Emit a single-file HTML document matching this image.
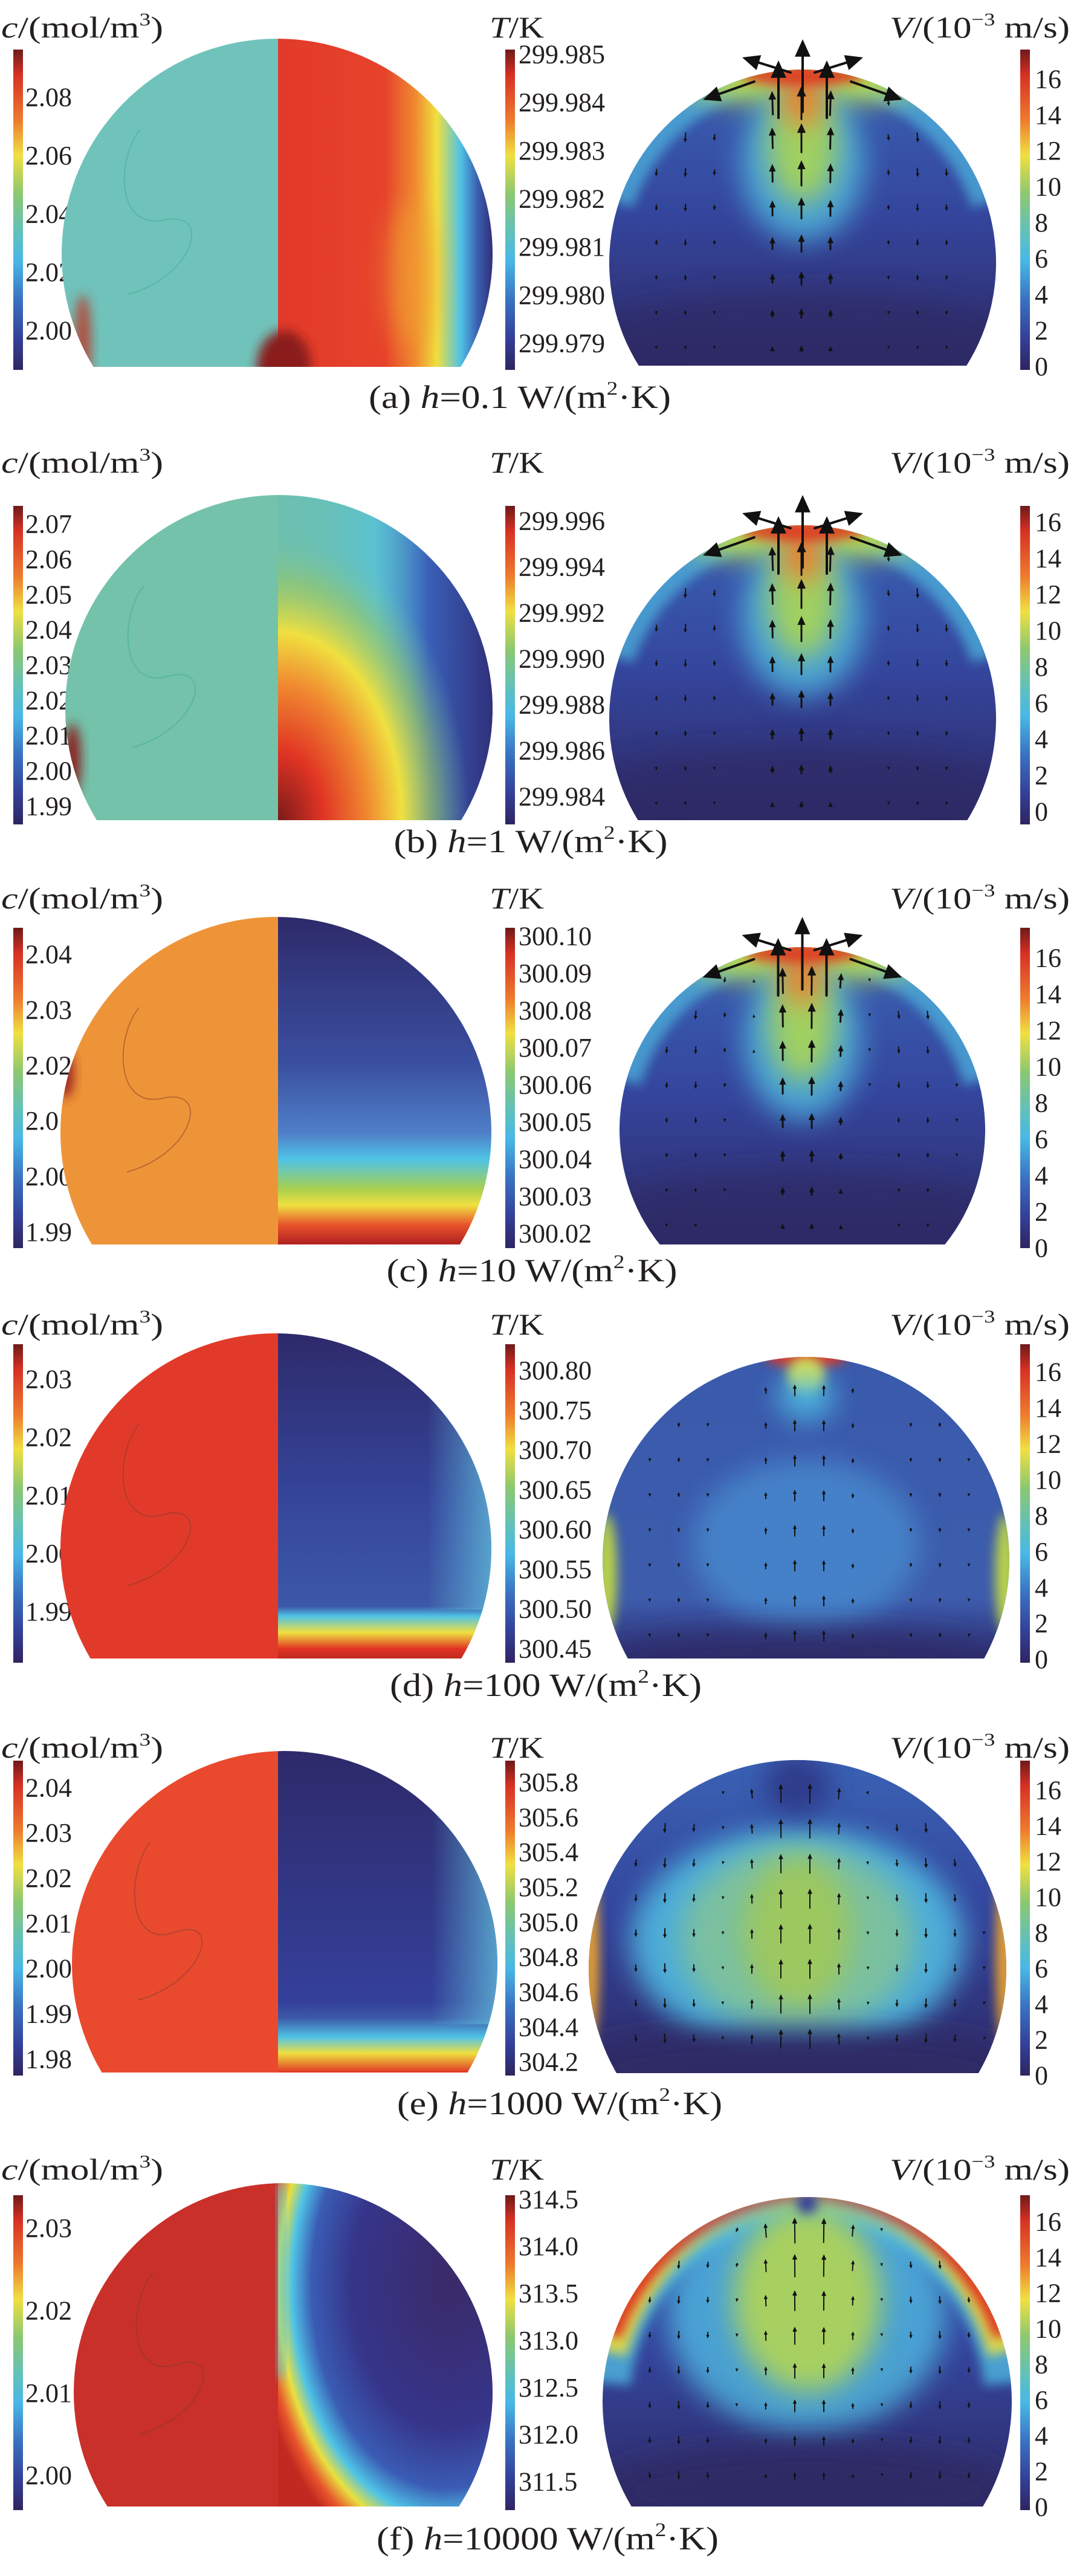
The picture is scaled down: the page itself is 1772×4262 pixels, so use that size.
<!DOCTYPE html>
<html><head><meta charset="utf-8"><title>Concentration, temperature and velocity fields</title>
<style>
html,body{margin:0;padding:0;background:#fff;}
svg{display:block;}
text{font-family:"Liberation Serif","DejaVu Serif",serif;fill:#231f20;}
</style></head>
<body>
<svg id="chart" width="1772" height="4262" viewBox="0 0 1772 4262" xmlns="http://www.w3.org/2000/svg">
<defs id="defs"></defs>
</svg>
<script>
// ---- data arrays ----
const captionLetters=['(a)','(b)','(c)','(d)','(e)','(f)'];
const hValues=['0.1','1','10','100','1000','10000'];
const cTicksA=[2.08,2.06,2.04,2.02,2.00];
const cTicksB=[2.07,2.06,2.05,2.04,2.03,2.02,2.01,2.00,1.99];
const cTicksC=[2.04,2.03,2.02,2.01,2.00,1.99];
const cTicksD=[2.03,2.02,2.01,2.00,1.99];
const cTicksE=[2.04,2.03,2.02,2.01,2.00,1.99,1.98];
const cTicksF=[2.03,2.02,2.01,2.00];
const tTicksA=[299.985,299.984,299.983,299.982,299.981,299.980,299.979];
const tTicksB=[299.996,299.994,299.992,299.990,299.988,299.986,299.984];
const tTicksC=[300.10,300.09,300.08,300.07,300.06,300.05,300.04,300.03,300.02];
const tTicksD=[300.80,300.75,300.70,300.65,300.60,300.55,300.50,300.45];
const tTicksE=[305.8,305.6,305.4,305.2,305.0,304.8,304.6,304.4,304.2];
const tTicksF=[314.5,314.0,313.5,313.0,312.5,312.0,311.5];
const vTicks=[16,14,12,10,8,6,4,2,0];
const cTickSets=[cTicksA,cTicksB,cTicksC,cTicksD,cTicksE,cTicksF];
const tTickSets=[tTicksA,tTicksB,tTicksC,tTicksD,tTicksE,tTicksF];
const tDecimals=[3,3,2,2,1,1];

// ---- layout (not data) ----
const L=[
 {oy:0,lb:62,bar:[82,612],cf:[.149,.877],tf:[.015,.917],vf:[.092,.99],ld:[102,815,64,607],rd:[1008,1648,115,605],cap:[860,675,500]},
 {oy:712,lb:70,bar:[125,652],cf:[.057,.943],tf:[.047,.913],vf:[.051,.96],ld:[108,815,107,645],rd:[1008,1648,157,645],cap:[878,698,453]},
 {oy:1424,lb:79,bar:[111,641],cf:[.083,.95],tf:[.026,.955],vf:[.094,1.0],ld:[100,813,93,635],rd:[1025,1630,143,635],cap:[880,696,481]},
 {oy:2130,lb:78,bar:[94,621],cf:[.11,.84],tf:[.083,.956],vf:[.087,.99],ld:[100,813,76,614],rd:[997,1670,115,614],cap:[903,676,516]},
 {oy:2840,lb:68,bar:[73,594],cf:[.086,.948],tf:[.069,.957],vf:[.094,1.0],ld:[119,823,57,589],rd:[974,1665,72,590],cap:[926,658,538]},
 {oy:3540,lb:66,bar:[92,613],cf:[.105,.89],tf:[.013,.91],vf:[.084,.99],ld:[122,815,72,607],rd:[997,1674,95,607],cap:[906,678,566]}
];
const cColors=['#70c3bb','#74c2aa','#ee9438','#e23a2a','#e94a2e','#c9302a'];
const SPLIT=460;
const NS='http://www.w3.org/2000/svg';
const svg=document.getElementById('chart');
const defs=document.getElementById('defs');
function mk(tag,attrs,parent){const e=document.createElementNS(NS,tag);for(const k in attrs)e.setAttribute(k,attrs[k]);(parent||svg).appendChild(e);return e;}
function grad(id,type,stops,extra){const g=mk(type,Object.assign({id:id},extra||{}),defs);stops.forEach(s=>mk('stop',{offset:s[0],'stop-color':s[1],'stop-opacity':s[2]===undefined?1:s[2]},g));return g;}
grad('jet','linearGradient',[[0,'#6e1a1a'],[.08,'#d83024'],[.22,'#ee7a2e'],[.33,'#f0e040'],[.45,'#8cc870'],[.58,'#5ec0c0'],[.66,'#48b8e6'],[.78,'#3a72c2'],[.9,'#34409a'],[1,'#2e2560']],{x1:0,y1:0,x2:0,y2:1});
const blur=mk('filter',{id:'blur',x:'-50%',y:'-50%',width:'200%',height:'200%'},defs);mk('feGaussianBlur',{stdDeviation:22},blur);
const blurS=mk('filter',{id:'blurS',x:'-50%',y:'-50%',width:'200%',height:'200%'},defs);mk('feGaussianBlur',{stdDeviation:9},blurS);
grad('tg0','linearGradient',[[0,'#e23a2a'],[.5,'#e6432b'],[.64,'#f08a30'],[.74,'#f0e040'],[.85,'#4fc3e6'],[.93,'#3a5fb0'],[1,'#30307a']]);
grad('tg1a','linearGradient',[[0,'#6cc0b0',0],[.45,'#4fc3e6',.6],[.7,'#3a60b8',1],[1,'#30307a',1]]);
grad('tg1b','radialGradient',[[0,'#7a1a1a'],[.2,'#e03424'],[.4,'#f08a30'],[.55,'#f0e040'],[.7,'#9cc860',.6],[.85,'#6cc0b0',0]],{cx:0,cy:1,r:1.05});
grad('tg2','linearGradient',[[0,'#2e2a6a'],[.45,'#3a4fa0'],[.66,'#4f7fc8'],[.74,'#4fc3e6'],[.83,'#a8d050'],[.88,'#f0e040'],[.94,'#e8542c'],[1,'#b02020']],{x1:0,y1:0,x2:0,y2:1});
grad('tg3','linearGradient',[[0,'#2e2a6a'],[.5,'#35459a'],[.84,'#3d58a8'],[.87,'#4fc3e6'],[.92,'#f0e040'],[.97,'#e03424'],[1,'#c02a20']],{x1:0,y1:0,x2:0,y2:1});
grad('tg4','linearGradient',[[0,'#2e2a6a'],[.78,'#34409a'],[.83,'#3d58a8'],[.89,'#4fc3e6'],[.94,'#f0e040'],[1,'#e03424']],{x1:0,y1:0,x2:0,y2:1});
grad('tg5','radialGradient',[[0,'#3a2a68'],[.5,'#36358a'],[.7,'#3a5cb4'],[.8,'#4fc3e6'],[.87,'#e8e040'],[.94,'#e8542c'],[1,'#c02a20']],{cx:.78,cy:.32,r:.9,fx:.8,fy:.3});
grad('edgeCyan','linearGradient',[[0,'#5fb8d8',0],[.7,'#5fb8d8',0],[1,'#5fb8d8',.8]]);
grad('vbase','linearGradient',[[0,'#3a62b4'],[.5,'#34459c'],[1,'#2e2a66']],{x1:0,y1:0,x2:0,y2:1});
grad('vbaseD','linearGradient',[[0,'#3a5aac'],[.8,'#3d5cac'],[1,'#2e3278']],{x1:0,y1:0,x2:0,y2:1});

function domePath(x0,x1,top,bottom){const r=(x1-x0)/2,cx=(x0+x1)/2,cy=top+r;const dy=bottom-cy;const hw=Math.sqrt(Math.max(r*r-dy*dy,0));const large=bottom>cy?1:0;return `M${cx-hw},${bottom} A${r},${r} 0 ${large} 1 ${cx+hw},${bottom} Z`;}
function upperArc(x0,x1,top,depth){const r=(x1-x0)/2,cx=(x0+x1)/2;const hw=Math.sqrt(Math.max(r*r-(r-depth)*(r-depth),0));return `M${cx-hw},${top+depth} A${r},${r} 0 0 1 ${cx+hw},${top+depth}`;}
function fmt(v,d){return v.toFixed(d);}
function axisY(ticks,bar,fr){const a=ticks[0],b=ticks[ticks.length-1];const y0=bar[0]+(bar[1]-bar[0])*fr[0],y1=bar[0]+(bar[1]-bar[0])*fr[1];return v=>y0+(v-a)/(b-a)*(y1-y0);}
function arrow(g,x,y,dx,dy,w){const len=Math.hypot(dx,dy);if(len<3)return;const ux=dx/len,uy=dy/len;const hs=Math.min(6+len*0.15,18)*w/2.5;
 const ln=mk('line',{x1:x-dx/2,y1:y-dy/2,x2:x+dx/2-ux*hs*0.6,y2:y+dy/2-uy*hs*0.6,stroke:'#111','stroke-width':w,'stroke-linecap':'round'},g);
 
 
 const tx=x+dx/2,ty=y+dy/2,bx=tx-ux*hs,by=ty-uy*hs,px=-uy*hs*0.45,py=ux*hs*0.45;
 const hd=mk('polygon',{points:`${tx},${ty} ${bx+px},${by+py} ${bx-px},${by-py}`,fill:'#111'},g);
 
 }

L.forEach((p,i)=>{
 const g=mk('g',{transform:`translate(0,${p.oy})`});
 
 
 const ct=mk('text',{x:2,y:p.lb,'font-size':50,textLength:268,lengthAdjust:'spacingAndGlyphs'},g);
 
 
 ct.innerHTML='<tspan font-style="italic">c</tspan>/(mol/m<tspan font-size="30" dy="-20">3</tspan><tspan dy="20">)</tspan>';
 const tt=mk('text',{x:810,y:p.lb,'font-size':50,textLength:90,lengthAdjust:'spacingAndGlyphs'},g);
 
 
 tt.innerHTML='<tspan font-style="italic">T</tspan>/K';
 const vt=mk('text',{x:1472,y:p.lb,'font-size':50,textLength:298,lengthAdjust:'spacingAndGlyphs'},g);
 
 
 vt.innerHTML='<tspan font-style="italic">V</tspan>/(10<tspan font-size="30" dy="-20">−3</tspan><tspan dy="20"> m/s)</tspan>';
 [[22,'concentration-colorbar'],[836,'temperature-colorbar'],[1688,'velocity-colorbar']].forEach(b=>{
  const r=mk('rect',{x:b[0],y:p.bar[0],width:16,height:p.bar[1]-p.bar[0],fill:'url(#jet)'},g);
  
  
 });
 const cy=axisY(cTickSets[i],p.bar,p.cf);
 cTickSets[i].forEach(v=>{const t=mk('text',{x:42,y:cy(v),'font-size':44,'dominant-baseline':'central'},g);t.textContent=fmt(v,2);
  
  });
 const ty=axisY(tTickSets[i],p.bar,p.tf);
 tTickSets[i].forEach(v=>{const t=mk('text',{x:858,y:ty(v),'font-size':44,'dominant-baseline':'central'},g);t.textContent=fmt(v,tDecimals[i]);
  
  });
 const vy=axisY(vTicks,p.bar,p.vf);
 vTicks.forEach(v=>{const t=mk('text',{x:1712,y:vy(v),'font-size':44,'dominant-baseline':'central'},g);t.textContent=String(v);
  
  });
 const [lx0,lx1,lt,lb]=p.ld;
 const cpL=mk('clipPath',{id:'cl'+i},defs);mk('path',{d:domePath(lx0,lx1,lt,lb)},cpL);
 const ld=mk('g',{'clip-path':`url(#cl${i})`},g);
 
 
 const cr=mk('rect',{x:lx0,y:lt,width:SPLIT-lx0,height:lb-lt,fill:cColors[i]},ld);
 
 
 const tw=lx1-SPLIT;
 let tr;
 if(i===1){tr=mk('rect',{x:SPLIT,y:lt,width:tw,height:lb-lt,fill:'#6cc0b0'},ld);
  mk('rect',{x:SPLIT,y:lt,width:tw,height:lb-lt,fill:'url(#tg1a)'},ld);
  mk('rect',{x:SPLIT,y:lt,width:tw,height:lb-lt,fill:'url(#tg1b)'},ld);}
 else{tr=mk('rect',{x:SPLIT,y:lt,width:tw,height:lb-lt,fill:`url(#tg${i})`},ld);}
 
 
 if(i===3||i===4)mk('rect',{x:SPLIT,y:lt,width:tw,height:(lb-lt)*0.85,fill:'url(#edgeCyan)'},ld);
 if(i===0){mk('ellipse',{cx:SPLIT+10,cy:lb,rx:45,ry:60,fill:'#8a1e1a',filter:'url(#blurS)'},ld);
  mk('ellipse',{cx:SPLIT+tw*0.62,cy:lt+(lb-lt)*0.72,rx:40,ry:120,fill:'#f0a030',opacity:.6,filter:'url(#blur)'},ld);
  mk('ellipse',{cx:lx0+35,cy:lb-40,rx:14,ry:80,fill:'#c03020',opacity:.8,filter:'url(#blurS)'},ld);}
 if(i===1)mk('ellipse',{cx:lx0+12,cy:lb-100,rx:14,ry:60,fill:'#8a2020',filter:'url(#blurS)'},ld);
 if(i===2)mk('ellipse',{cx:lx0+8,cy:lt+260,rx:14,ry:40,fill:'#9a2020',filter:'url(#blurS)'},ld);
 if(i===5){mk('rect',{x:SPLIT,y:lt,width:10,height:(lb-lt)*.6,fill:'#4fc3e6',filter:'url(#blurS)'},ld);}
 const cl=mk('path',{d:`M${lx0+110},${lb-120} C${lx0+220},${lb-150} ${lx0+250},${lb-260} ${lx0+170},${lt+300} S${lx0+90},${lt+200} ${lx0+130},${lt+150}`,fill:'none',stroke:i<2?'#3aa890':'#7a3a30','stroke-width':2,opacity:.45},ld);
 
 
 const [rx0,rx1,rt,rb]=p.rd;const W=rx1-rx0,H=rb-rt,cx=(rx0+rx1)/2,R=W/2;
 const cpR=mk('clipPath',{id:'cr'+i},defs);mk('path',{d:domePath(rx0,rx1,rt,rb)},cpR);
 const rd=mk('g',{'clip-path':`url(#cr${i})`},g);
 
 
 mk('rect',{x:rx0,y:rt,width:W,height:H,fill:i===3?'url(#vbaseD)':'url(#vbase)'},rd);
 const blob=(fx,fy,frx,fry,col,op,f)=>mk('ellipse',{cx:rx0+W*fx,cy:rt+H*fy,rx:W*frx,ry:H*fry,fill:col,opacity:op===undefined?1:op,filter:`url(#${f||'blur'})`},rd);
 const arcBand=(col,w,op,depth)=>mk('path',{d:upperArc(rx0,rx1,rt,depth),fill:'none',stroke:col,'stroke-width':w,opacity:op,filter:'url(#blurS)'},rd);
 if(i<=2){
  arcBand('#4fb8e0',50,.7,H*0.45);
  blob(.5,.0,.36,.12,'#b8d850');blob(.5,.32,.16,.26,'#4fb8e0',.8);blob(.5,.25,.09,.2,'#a0d060');
  blob(.5,.1,.05,.09,'#ee7a2e');blob(.5,.02,.16,.035,'#e03424',.9,'blurS');
  blob(.5,.95,.6,.2,'#2e2a66',.7);
 } else if(i===3){
  blob(.5,.0,.1,.035,'#e03424',1,'blurS');blob(.5,.06,.045,.06,'#e8e040',1,'blurS');blob(.5,.13,.07,.08,'#4fc3e6',.8);
  blob(.5,.62,.28,.28,'#4a92d4',.7);blob(.01,.72,.025,.2,'#c8e040',.9,'blurS');blob(.99,.72,.025,.2,'#c8e040',.9,'blurS');
  blob(.5,1,.5,.1,'#2e2a66',.8);
 } else if(i===4){
  blob(.5,.58,.4,.36,'#4fb8e0',.9);blob(.5,.57,.28,.3,'#7ac0a0');blob(.5,.55,.13,.24,'#9cc860');
  blob(.005,.62,.02,.3,'#e8a030',1,'blurS');blob(.995,.62,.02,.3,'#e8a030',1,'blurS');
  blob(.5,.98,.55,.12,'#2e2a66');blob(.5,.08,.08,.1,'#2e3a8a');
 } else {
  arcBand('#4fb8e0',90,.8,H*0.6);arcBand('#e8e040',60,.9,H*0.5);arcBand('#e03424',26,1,H*0.45);
  blob(.5,.38,.34,.38,'#4fb8e0',.8);blob(.5,.33,.18,.3,'#a8d060');
  blob(.5,.95,.5,.15,'#2e2a66');blob(.5,.02,.025,.035,'#34409a',1,'blurS');
 }
 const ag=mk('g',{},rd);
 
 
 const strength=[1,1,.9,.7,1,1.1][i];
 for(let y=rt+55;y<rb-20;y+=58){for(let x=rx0+30;x<rx1-10;x+=48){
  const ccy=rt+R;const dd=Math.hypot(x-cx,Math.min(0,y-ccy));if(dd>R-18)continue;
  const u=(x-cx)/R,v=(y-rt)/H;
  let vyv=-Math.cos(Math.PI*u*1.6),vxv=u*0.35*(0.6-v);
  let mag=(i<=2?(Math.abs(u)<.25?55*(1-v)+6:16*(1-v)+4):(i===3?(Math.abs(u)<.3?28:10):(i===4?(Math.abs(u)<.35?34:16):(Math.abs(u)<.35?36*(1-v)+8:12))))*strength;
  arrow(ag,x,y,vxv*mag,vyv*mag,i<=2&&Math.abs(u)<.25?3:2);
 }}
 if(i<=2){
  const tops=[[cx,rt+70,cx,rt-50],[cx-40,rt+80,cx-40,rt-15],[cx+40,rt+80,cx+40,rt-15],[cx-20,rt+5,cx-100,rt-20],[cx+20,rt+5,cx+100,rt-20],[cx-80,rt+20,cx-165,rt+50],[cx+80,rt+20,cx+165,rt+50]];
  tops.forEach(s=>arrow(g,(s[0]+s[2])/2,(s[1]+s[3])/2,s[2]-s[0],s[3]-s[1],4));
 }
 const cap=mk('text',{x:p.cap[0],y:p.cap[1],'font-size':54,'text-anchor':'middle',textLength:p.cap[2],lengthAdjust:'spacingAndGlyphs'},g);
 
 
 cap.innerHTML=`${captionLetters[i]} <tspan font-style="italic">h</tspan>=${hValues[i]} W/(m<tspan font-size="32" dy="-22">2</tspan><tspan dy="22">·K)</tspan>`;
});
</script>
</body></html>
